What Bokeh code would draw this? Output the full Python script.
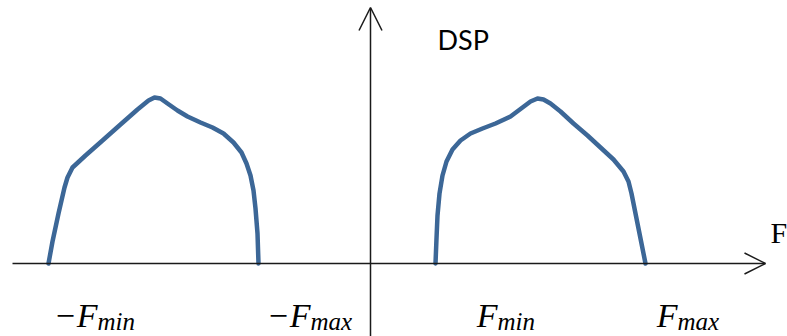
from bokeh.plotting import figure
from bokeh.models import Range1d, Arrow, OpenHead, ColumnDataSource
from bokeh.core.properties import value
from bokeh.embed import file_html
from bokeh.resources import INLINE

# Spectral density (DSP) sketch: two symmetric-ish bands around F = 0
# Frequency in arbitrary units (0 at the vertical axis), amplitude in arbitrary units.
neg_band_f = [-322, -318, -312, -306, -303, -298, -285, -268, -250, -233, -222, -216,
              -210, -203, -193, -183, -170, -158, -147, -137, -129, -124, -120, -117,
              -115, -113, -112]
neg_band_a = [0, 22, 50, 76, 86, 96, 108, 123, 139, 154, 163, 166,
              165, 160, 153, 147, 141, 136, 130, 121, 111, 100, 88, 73,
              55, 30, 0]

pos_band_f = [65, 66, 67, 69, 72, 76, 82, 90, 100, 112, 125, 140, 152, 160, 167,
              173, 180, 190, 203, 217, 230, 243, 253, 258, 261, 266, 271, 275]
pos_band_a = [0, 25, 48, 70, 88, 102, 114, 123, 130, 135, 140, 147, 156, 162, 165,
              164, 160, 152, 140, 128, 116, 104, 92, 82, 70, 45, 20, 0]

# Frequency marks under the axis (main symbol, subscript, anchor)
mark_main = ["\u2212F", "\u2212F", "F", "F"]
mark_sub = ["min", "max", "min", "max"]
mark_pos = [-273, -60, 127, 307]

axis_name_f = "F"
axis_name_dsp = "DSP"

p = figure(width=787, height=336, output_backend="svg", toolbar_location=None,
           x_range=Range1d(-370, 417), y_range=Range1d(-73, 263),
           min_border=0, min_border_left=0, min_border_right=0,
           min_border_top=0, min_border_bottom=0)
p.axis.visible = False
p.xgrid.visible = False
p.ygrid.visible = False
p.outline_line_color = None
p.background_fill_color = "white"
p.border_fill_color = "white"

band_color = "#3C6797"
p.line(neg_band_f, neg_band_a, line_color=band_color, line_width=4.5,
       line_join="round", line_cap="round")
p.line(pos_band_f, pos_band_a, line_color=band_color, line_width=4.5,
       line_join="round", line_cap="round")

# Axes drawn as arrows
axis_color = "#1a1a1a"
p.add_layout(Arrow(end=OpenHead(size=21, line_width=1.5, line_color=axis_color),
                   x_start=-358, y_start=0, x_end=395, y_end=0,
                   line_width=1.5, line_color=axis_color))
p.add_layout(Arrow(end=OpenHead(size=23, line_width=1.5, line_color=axis_color),
                   x_start=0, y_start=-73, x_end=0, y_end=256,
                   line_width=1.5, line_color=axis_color))

# Frequency marks
src = ColumnDataSource(dict(x=mark_pos, y=[-52] * 4, ys=[-58] * 4,
                            main=mark_main, sub=mark_sub))
p.text(x="x", y="y", text="main", source=src, text_align="right",
       text_baseline="alphabetic", text_font=value("Liberation Serif"),
       text_font_style="italic", text_font_size="34px", text_color="black")
p.text(x="x", y="ys", text="sub", source=src, text_align="left",
       text_baseline="alphabetic", text_font=value("Liberation Serif"),
       text_font_style="italic", text_font_size="25px", text_color="black")

# Axis names
p.text(x=[400], y=[31], text=[axis_name_f], text_align="left",
       text_baseline="alphabetic", text_font=value("Liberation Serif"),
       text_font_size="30px", text_color="black")
p.text(x=[67], y=[224], text=[axis_name_dsp], text_align="left",
       text_baseline="alphabetic", text_font=value("Lato"),
       text_font_size="27px", text_color="black")

open("out.html", "w").write(file_html(p, INLINE))
